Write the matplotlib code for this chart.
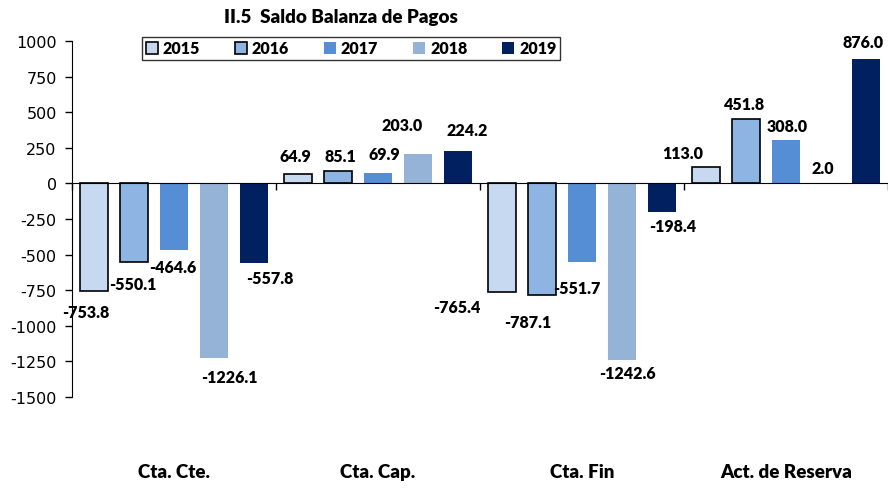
import numpy as np
import matplotlib
matplotlib.use("Agg")
import matplotlib.pyplot as plt
import matplotlib.transforms as mtransforms

categories = ["Cta. Cte.", "Cta. Cap.", "Cta. Fin", "Act. de Reserva"]
years = ["2015", "2016", "2017", "2018", "2019"]
v2015 = [-753.8, 64.9, -765.4, 113.0]
v2016 = [-550.1, 85.1, -787.1, 451.8]
v2017 = [-464.6, 69.9, -551.7, 308.0]
v2018 = [-1226.1, 203.0, -1242.6, 2.0]
v2019 = [-557.8, 224.2, -198.4, 876.0]
yticks = [1000, 750, 500, 250, 0, -250, -500, -750, -1000, -1250, -1500]

series = [v2015, v2016, v2017, v2018, v2019]
colors = ["#C6D9F1", "#8DB4E2", "#558ED5", "#95B3D7", "#002060"]
edges = ["black", "black", "none", "none", "none"]

# label nudges in pixels (dx, distance from bar end), per series / category
label_dx = [[-8, -3, -45, -23], [-1, 2, -14, -1], [-1, 6, -5, 1], [15, -16, 5, -3], [16, 9, 11, -3]]
label_dy = [[21, 18, 15, 14], [22, 15, 27, 15], [17, 19, 26, 14], [19, 29, 13, 15], [15, 21, 14, 17]]

fig = plt.figure(figsize=(8.88, 4.89), dpi=100)
ax = fig.add_axes([72 / 888, 91 / 489, 816 / 888, 356 / 489])

ind = np.arange(len(categories)) + 0.5
pitch = 0.196
width = 0.133
for j, vals in enumerate(series):
    ax.bar(ind + (j - 2) * pitch, vals, width, color=colors[j],
           edgecolor=edges[j], linewidth=1.2, label=years[j], zorder=2)
    for i, v in enumerate(vals):
        sign = 1 if v >= 0 else -1
        ax.annotate("%.1f" % v, (ind[i] + (j - 2) * pitch, v),
                    xytext=(label_dx[j][i], sign * label_dy[j][i]),
                    textcoords="offset pixels", ha="center", va="center",
                    fontsize=11.5, fontweight="heavy", family="Lato", zorder=3)

ax.set_xlim(0, len(categories))
ax.set_ylim(-1500, 1000)
ax.set_yticks(yticks)
ax.set_yticklabels([str(t) if t >= 0 else "-" + str(-t) for t in yticks],
                   fontsize=11.5, family="DejaVu Sans")

for s in ["top", "right"]:
    ax.spines[s].set_visible(False)
ax.spines["bottom"].set_position(("data", 0))
ax.spines["bottom"].set_zorder(4)
ax.set_xticks(np.arange(len(categories) + 1))
ax.set_xticklabels([])
ax.tick_params(axis="x", direction="out", length=5, width=1)
ax.tick_params(axis="y", direction="out", length=5, width=1, pad=6)

trans = mtransforms.blended_transform_factory(ax.transData, ax.transAxes)
for i, c in enumerate(categories):
    ax.text(ind[i], -0.208, c, transform=trans, ha="center", va="center",
            fontsize=13.5, fontweight="heavy", family="Lato")

leg = ax.legend(loc="center", bbox_to_anchor=(351 / 888, 1 - 49.5 / 489),
                bbox_transform=fig.transFigure, ncol=5, frameon=True,
                fancybox=False, edgecolor="black", handlelength=0.75,
                handleheight=0.75, handletextpad=0.3, columnspacing=2.2,
                borderpad=0.25, prop={"family": "Lato", "weight": "heavy", "size": 11.5})
leg.get_frame().set_linewidth(1.0)

fig.text(341 / 888, 1 - 17 / 489, "II.5  Saldo Balanza de Pagos", ha="center",
         va="center", fontsize=13.5, fontweight="heavy", family="Lato")

fig.savefig("out.png", dpi=100)
